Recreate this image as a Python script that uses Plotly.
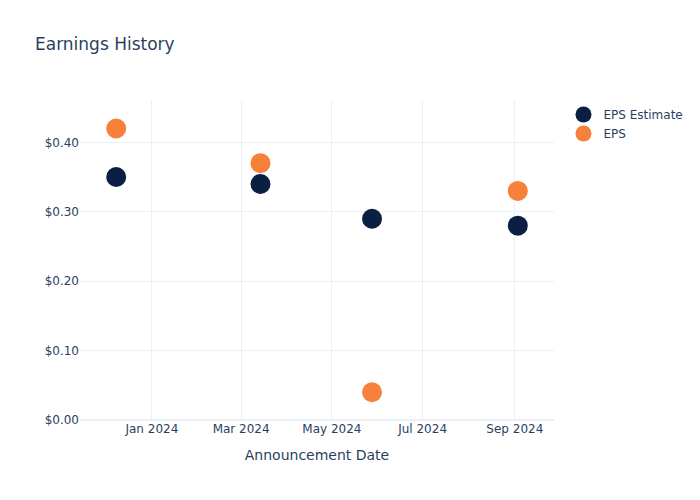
import plotly.graph_objects as go

dates = ["2023-12-08", "2024-03-14", "2024-05-28", "2024-09-03"]
eps_estimate = [0.35, 0.34, 0.29, 0.28]
eps_actual = [0.42, 0.37, 0.04, 0.33]

fig = go.Figure()
fig.add_trace(go.Scatter(x=dates, y=eps_actual, mode="markers", name="EPS",
                         marker=dict(color="#f7813a", size=20)))
fig.add_trace(go.Scatter(x=dates, y=eps_estimate, mode="markers", name="EPS Estimate",
                         marker=dict(color="#0b1f42", size=20)))
fig.update_layout(
    template="plotly_white",
    width=700, height=500,
    font=dict(family="DejaVu Sans"),
    title=dict(text="Earnings History"),
    legend=dict(traceorder="reversed"),
    xaxis=dict(title=dict(text="Announcement Date")),
    yaxis=dict(tickformat="$.2f", range=[0, 0.461]),
)
fig.write_html("out.html")
